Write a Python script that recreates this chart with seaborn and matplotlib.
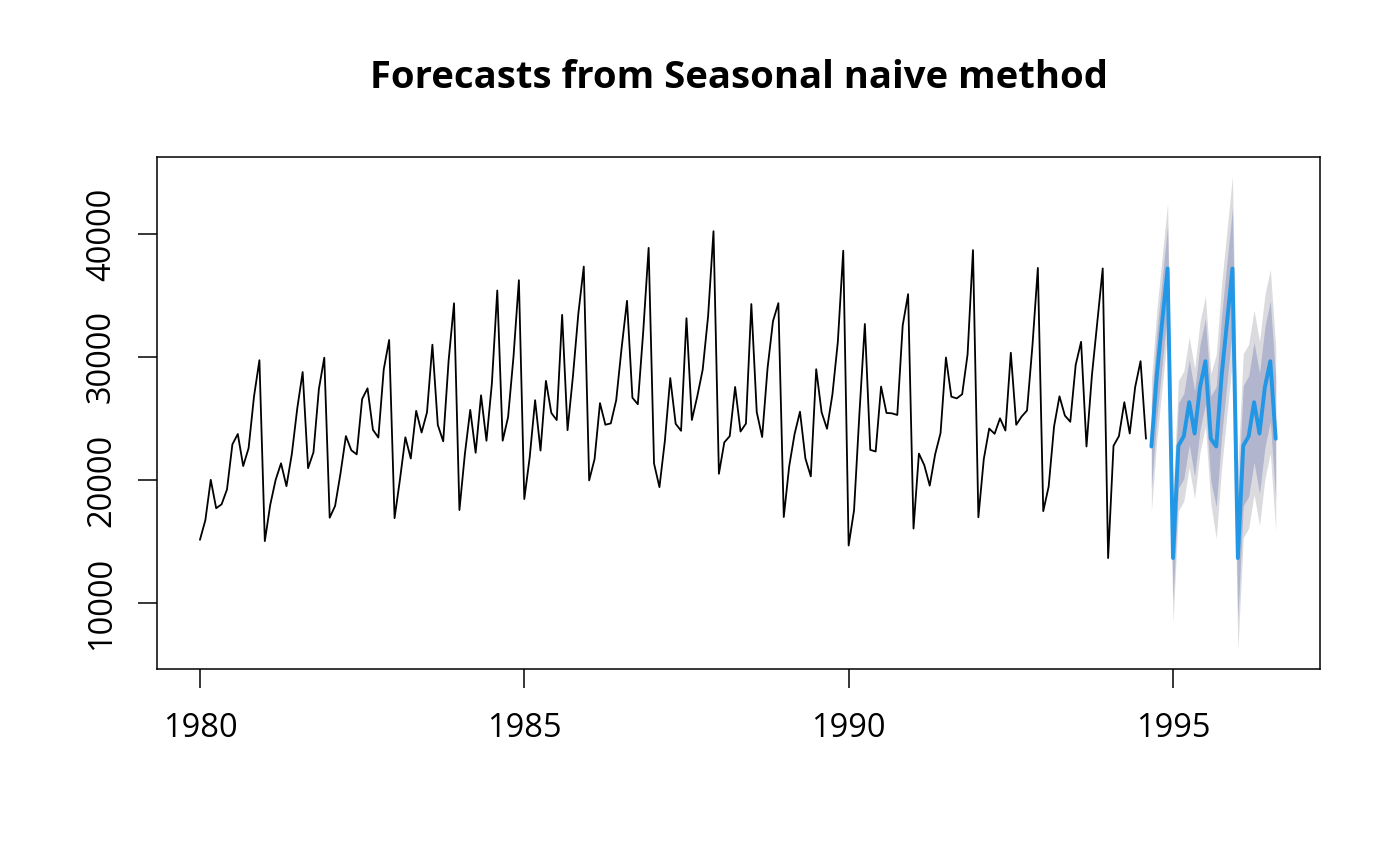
import numpy as np
import pandas as pd
import seaborn as sns
import matplotlib
matplotlib.use('Agg')
import matplotlib.pyplot as plt

# Observed monthly series, Jan 1980 - Aug 1994
sales = [
    15136, 16733, 20016, 17708, 18019, 19227, 22893, 23739, 21133, 22591, 26786, 29740,
    15028, 17977, 20008, 21354, 19498, 22125, 25817, 28779, 20960, 22254, 27392, 29945,
    16933, 17892, 20533, 23569, 22417, 22084, 26580, 27454, 24081, 23451, 28991, 31386,
    16896, 20045, 23471, 21747, 25621, 23859, 25500, 30998, 24475, 23145, 29701, 34365,
    17556, 22077, 25702, 22214, 26886, 23191, 27831, 35406, 23195, 25110, 30009, 36242,
    18450, 21845, 26488, 22394, 28057, 25451, 24872, 33424, 24052, 28449, 33533, 37351,
    19969, 21701, 26249, 24493, 24603, 26485, 30723, 34569, 26689, 26157, 32064, 38870,
    21337, 19419, 23166, 28286, 24570, 24001, 33151, 24878, 26804, 28967, 33311, 40226,
    20504, 23060, 23562, 27562, 23940, 24584, 34303, 25517, 23494, 29095, 32903, 34379,
    16991, 21109, 23740, 25552, 21752, 20294, 29009, 25500, 24166, 26960, 31222, 38641,
    14672, 17543, 25453, 32683, 22449, 22316, 27595, 25451, 25421, 25288, 32568, 35110,
    16052, 22146, 21198, 19543, 22084, 23816, 29961, 26773, 26635, 26972, 30207, 38687,
    16974, 21697, 24179, 23757, 25013, 24019, 30345, 24488, 25156, 25650, 30923, 37240,
    17466, 19463, 24352, 26805, 25236, 24735, 29356, 31234, 22724, 28496, 32857, 37198,
    13652, 22784, 23565, 26323, 23779, 27549, 29660, 23356,
]

# Forecasts, Sep 1994 - Aug 1996
point_fc = [
    22724, 28496, 32857, 37198, 13652, 22784, 23565, 26323, 23779, 27549, 29660, 23356,
    22724, 28496, 32857, 37198, 13652, 22784, 23565, 26323, 23779, 27549, 29660, 23356,
]
lo80 = [
    19264, 25036, 29397, 33738, 10192, 19324, 20105, 22863, 20319, 24089, 26200, 19896,
    17830, 23602, 27963, 32304, 8758, 17890, 18671, 21429, 18885, 22655, 24766, 18462,
]
hi80 = [
    26184, 31956, 36317, 40658, 17112, 26244, 27025, 29783, 27239, 31009, 33120, 26816,
    27618, 33390, 37751, 42092, 18546, 27678, 28459, 31217, 28673, 32443, 34554, 28250,
]
lo95 = [
    17432, 23204, 27565, 31906, 8360, 17492, 18273, 21031, 18487, 22257, 24368, 18064,
    15240, 21012, 25373, 29714, 6168, 15300, 16081, 18839, 16295, 20065, 22176, 15872,
]
hi95 = [
    28016, 33788, 38149, 42490, 18944, 28076, 28857, 31615, 29071, 32841, 34952, 28648,
    30208, 35980, 40341, 44682, 21136, 30268, 31049, 33807, 31263, 35033, 37144, 30840,
]

obs = pd.DataFrame({'time': 1980 + np.arange(len(sales)) / 12, 'value': sales})
fc = pd.DataFrame({'time': 1994 + 8 / 12 + np.arange(len(point_fc)) / 12,
                   'mean': point_fc, 'lo80': lo80, 'hi80': hi80,
                   'lo95': lo95, 'hi95': hi95})

sns.set_style('white')
plt.rcParams['font.family'] = ['Open Sans', 'DejaVu Sans']
plt.rcParams['text.color'] = 'black'
plt.rcParams['xtick.color'] = 'black'
plt.rcParams['ytick.color'] = 'black'

fig = plt.figure(figsize=(14, 8.66), dpi=100)
ax = fig.add_axes([0.1121, 0.2275, 0.8307, 0.5912])

# prediction intervals, 95% behind 80%
ax.fill_between(fc['time'], fc['lo95'], fc['hi95'], color='#DBDBDF', linewidth=0)
ax.fill_between(fc['time'], fc['lo80'], fc['hi80'], color='#B1B5CE', linewidth=0)
sns.lineplot(data=obs, x='time', y='value', color='black', linewidth=1.3, ax=ax)
sns.lineplot(data=fc, x='time', y='mean', color='#2297E6', linewidth=2.8, ax=ax)

ax.set_xlim(1979.337, 1997.265)
ax.set_ylim(4634, 46260)
ax.set_xticks([1980, 1985, 1990, 1995])
ax.set_yticks([10000, 20000, 30000, 40000])
ax.set_yticklabels(['10000', '20000', '30000', '40000'], rotation=90, va='center')
ax.set_xlabel('')
ax.set_ylabel('')
ax.tick_params(axis='both', which='major', length=14, width=1.1, color='black',
               labelsize=23.5, labelcolor='black', left=True, bottom=True)
ax.tick_params(axis='x', pad=17)
ax.tick_params(axis='y', pad=14)
for s in ax.spines.values():
    s.set_color('black')
    s.set_linewidth(1.1)

fig.text(0.528, 0.91, 'Forecasts from Seasonal naive method', ha='center', va='center',
         fontsize=27.5, fontweight='bold', color='black')

fig.savefig('out.png', dpi=100)
